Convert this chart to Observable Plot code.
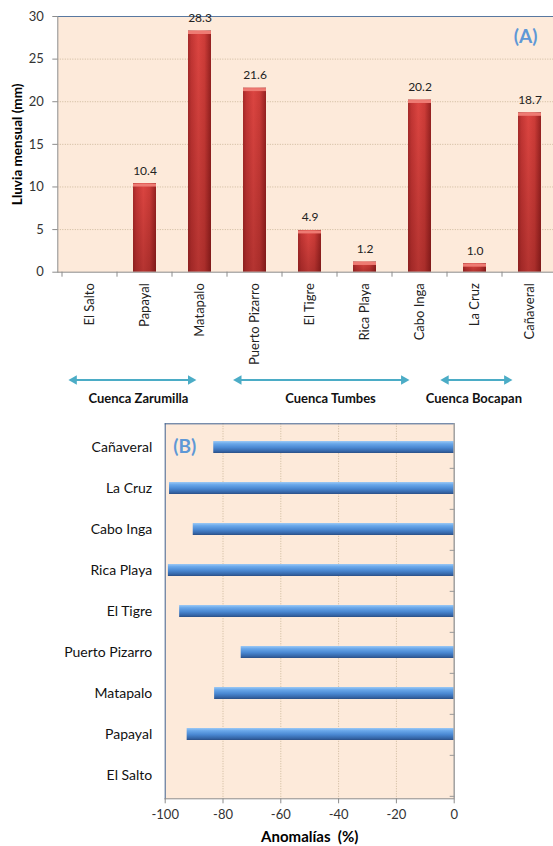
<!DOCTYPE html>
<html><head><meta charset="utf-8">
<script src="https://cdn.jsdelivr.net/npm/d3@7"></script>
<script src="https://cdn.jsdelivr.net/npm/@observablehq/plot@0.6"></script>
<style>
body{margin:0;background:#fff;width:553px;height:846px;overflow:hidden;font-family:Lato,sans-serif}
#root svg{display:block}
</style></head><body><div id="root"></div>
<script>
// ---- data ----
const stations = ["El Salto","Papayal","Matapalo","Puerto Pizarro","El Tigre","Rica Playa","Cabo Inga","La Cruz","Cañaveral"];
const rain = [null, 10.4, 28.3, 21.6, 4.9, 1.2, 20.2, 1.0, 18.7];
const anomaly = [null, -92.4, -82.9, -73.7, -95.0, -98.9, -90.3, -98.5, -83.2];
const rainTicks = [0, 5, 10, 15, 20, 25, 30];
const anomalyTicks = [-100, -80, -60, -40, -20, 0];
const basins = ["Cuenca Zarumilla", "Cuenca Tumbes", "Cuenca Bocapan"];
// basin extents in station-index units
const basinFrom = [-0.21, 2.73, 6.43];
const basinTo = [1.875, 5.68, 7.52];
const basinLabelAt = [0.94, 4.37, 6.93];

const rainData = stations.map((s, i) => ({station: s, value: rain[i]})).filter(d => d.value != null);
const anomData = stations.map((s, i) => ({station: s, value: anomaly[i]})).filter(d => d.value != null);
const basinLines = basins.map((b, i) => ({from: basinFrom[i], to: basinTo[i], row: 0}));
const basinHeads = basins.flatMap((b, i) => [
  {at: basinFrom[i], dir: -90, row: 0}, {at: basinTo[i], dir: 90, row: 0}
]);
const basinLabels = basins.map((b, i) => ({name: b, at: basinLabelAt[i], row: 1}));

function addDefs(svg, html) {
  const defs = document.createElementNS("http://www.w3.org/2000/svg", "defs");
  defs.innerHTML = html;
  svg.insertBefore(defs, svg.firstChild);
}
const baseStyle = {fontFamily: "Lato, sans-serif", fontSize: "12px", color: "#333", background: "transparent", overflow: "visible"};
const root = document.getElementById("root");

// ---- Panel A ----
const A = Plot.plot({
  width: 553, height: 370,
  marginTop: 16, marginBottom: 98.3, marginLeft: 57.3, marginRight: 0,
  style: baseStyle,
  x: {domain: stations, range: [57.3, 561.3], paddingInner: 0.59, paddingOuter: 0.295},
  y: {domain: [0, 30], range: [271.7, 16]},
  marks: [
    Plot.frame({fill: "#FDEADA", stroke: "none"}),
    Plot.ruleY(rainTicks.filter(t => t > 0 && t < 30), {stroke: "#CDB99C", strokeDasharray: "1,1.5"}),
    Plot.frame({anchor: "top", stroke: "#5878A0"}),
    Plot.barY(rainData, {x: "station", y: "value", fill: "url(#redBar)"}),
    Plot.barY(rainData, {x: "station", y: "value", fill: "url(#redShade)"}),
    Plot.tickY(rainData, {x: "station", y: "value", stroke: "#EE7B73", strokeWidth: 3, dy: 1.5}),
    Plot.text(rainData, {x: "station", y: "value", text: d => d.value.toFixed(1), dy: -9, lineAnchor: "bottom", fontSize: 12, fill: "#222"}),
    Plot.ruleY([0], {stroke: "#8C8C8C"}),
    Plot.frame({anchor: "left", stroke: "#8C8C8C"}),
    Plot.axisY({ticks: rainTicks, tickSize: 5, tickPadding: 9, label: null, stroke: "#8C8C8C", fill: "#333", fontSize: 13}),
    Plot.axisX({tickSize: 5, tickFormat: () => "", dx: -28, stroke: "#8C8C8C", label: null}),
    Plot.axisX({tickSize: 0, tickPadding: 11, tickRotate: -90, label: null, fill: "#222", fontSize: 13}),
    Plot.text(["Lluvia mensual (mm)"], {frameAnchor: "left", rotate: -90, dx: -40, textAnchor: "middle", lineAnchor: "middle", fontWeight: "bold", fontSize: 13.5, fill: "#000"}),
    Plot.text(["(A)"], {frameAnchor: "top-right", dx: -16, dy: 20.7, textAnchor: "end", lineAnchor: "middle", fontWeight: "bold", fontSize: 19, fill: "#5E98D6"})
  ]
});
addDefs(A, `
<linearGradient id="redBar" x1="0" y1="0" x2="1" y2="0">
  <stop offset="0" stop-color="#A52A29"/><stop offset="0.15" stop-color="#C33634"/>
  <stop offset="0.45" stop-color="#DC4541"/><stop offset="0.72" stop-color="#CD3C38"/>
  <stop offset="1" stop-color="#942120"/></linearGradient>
<linearGradient id="redShade" x1="0" y1="0" x2="0" y2="1">
  <stop offset="0" stop-color="#3c0000" stop-opacity="0"/><stop offset="1" stop-color="#3c0000" stop-opacity="0.25"/></linearGradient>`);
root.appendChild(A);

// ---- Basin strip ----
const S = Plot.plot({
  width: 553, height: 40, margin: 0,
  style: baseStyle,
  x: {domain: [-0.5, stations.length - 0.5], range: [57.3, 561.3], axis: null},
  y: {domain: [0, 1], range: [9.5, 28], axis: null},
  marks: [
    Plot.link(basinLines, {x1: "from", y1: "row", x2: "to", y2: "row", stroke: "#4BACC6", strokeWidth: 2}),
    Plot.dot(basinHeads, {x: "at", y: "row", symbol: "triangle", rotate: "dir", r: 3.6, fill: "#4BACC6", stroke: "none"}),
    Plot.text(basinLabels, {x: "at", y: "row", text: "name", fontWeight: "bold", fontSize: 13, fill: "#111"})
  ]
});
root.appendChild(S);

// ---- Panel B ----
const B = Plot.plot({
  width: 553, height: 436,
  marginTop: 13.3, marginBottom: 47.7, marginLeft: 164.7, marginRight: 99.3,
  style: baseStyle,
  x: {domain: [-100, 0]},
  y: {domain: stations.slice().reverse(), paddingInner: 0.71, paddingOuter: 0.355},
  marks: [
    Plot.frame({fill: "#FDEADA", stroke: "none"}),
    Plot.ruleX(anomalyTicks.filter(t => t > -100 && t < 0), {stroke: "#CDB99C", strokeDasharray: "1,1.5"}),
    Plot.barX(anomData, {y: "station", x: "value", fill: "url(#blueBar)"}),
    Plot.frame({anchor: "top", stroke: "#3F5F8C"}),
    Plot.frame({anchor: "left", stroke: "#3F5F8C"}),
    Plot.frame({anchor: "bottom", stroke: "#8C8C8C"}),
    Plot.ruleX([0], {stroke: "#A0A0A0", strokeWidth: 1.5}),
    Plot.axisX({ticks: anomalyTicks, tickFormat: d => String(d), tickSize: 5, tickPadding: 6, label: null, stroke: "#8C8C8C", fill: "#333", fontSize: 13}),
    Plot.axisY({anchor: "left", tickSize: 0, tickPadding: 13, label: null, fill: "#111", fontSize: 14}),
    Plot.axisY({anchor: "right", tickSize: -5, tickFormat: () => "", dy: 20.85, stroke: "#999", label: null}),
    Plot.text(["Anomalías\u00a0 (%)"], {frameAnchor: "bottom", dy: 38, lineAnchor: "middle", fontWeight: "bold", fontSize: 15, fill: "#000"}),
    Plot.text(["(B)"], {frameAnchor: "top-left", dx: 8, dy: 22.7, textAnchor: "start", lineAnchor: "middle", fontWeight: "bold", fontSize: 19, fill: "#5E98D6"})
  ]
});
addDefs(B, `
<linearGradient id="blueBar" x1="0" y1="0" x2="0" y2="1">
  <stop offset="0" stop-color="#9CC9F5"/><stop offset="0.22" stop-color="#6AA8EA"/>
  <stop offset="0.55" stop-color="#4A88D2"/><stop offset="0.85" stop-color="#3566A8"/>
  <stop offset="1" stop-color="#2B4F85"/></linearGradient>`);
root.appendChild(B);
</script></body></html>
